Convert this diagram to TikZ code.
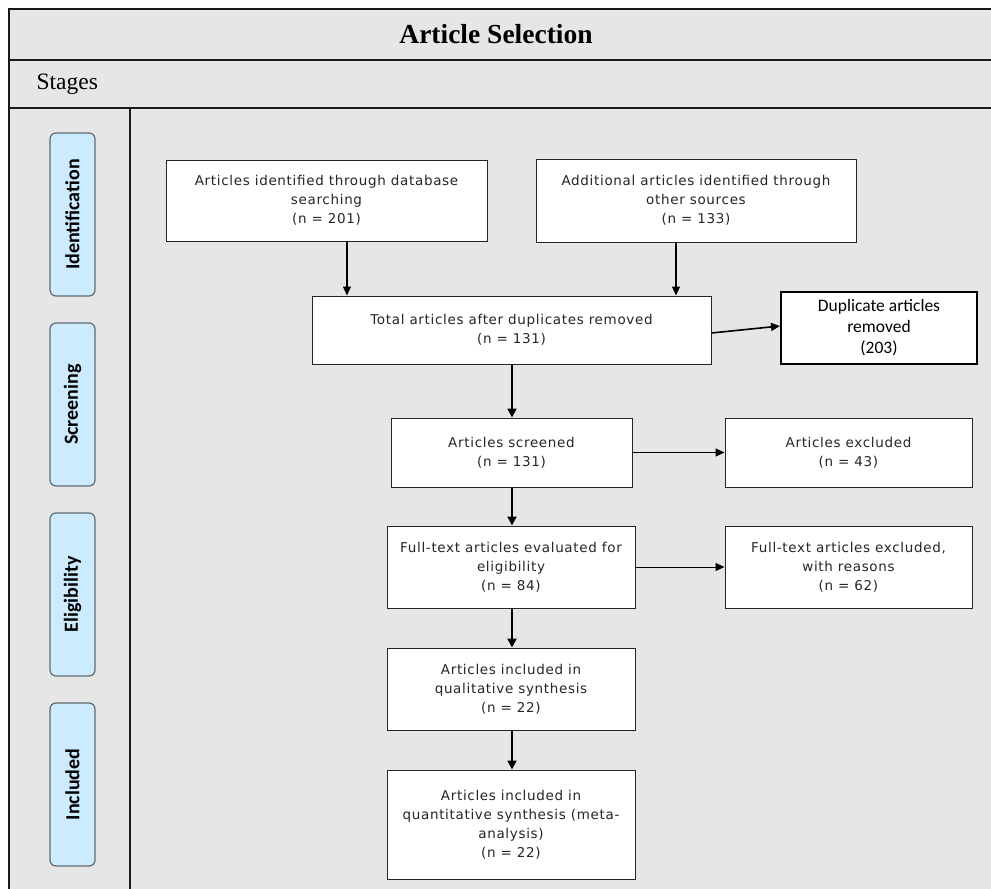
\documentclass[tikz,border=0pt]{standalone}
\usepackage{fontspec}
\setmainfont{Liberation Serif}
\newfontfamily\boxfont[LetterSpace=5]{DejaVu Sans}
\newfontfamily\calfont{Carlito}
\usetikzlibrary{arrows.meta}
\definecolor{bggray}{HTML}{E6E6E6}
\definecolor{pillblue}{HTML}{CCEBFF}
\definecolor{pillborder}{HTML}{5F6B70}
\tikzset{
  frameline/.style={line width=2pt, draw=black!90},
  fbox/.style={draw=black!85, fill=white, line width=1pt, align=center, inner sep=2pt,
    font=\boxfont\fontsize{13.5}{19}\selectfont, text=black!85},
  dupbox/.style={draw=black, fill=white, line width=2pt, align=center, inner sep=2pt,
    font=\calfont\fontsize{17.5}{21}\selectfont},
  pill/.style={draw=pillborder, fill=pillblue, line width=1.2pt, rounded corners=6pt,
    minimum width=45pt, minimum height=163pt},
  pilltext/.style={rotate=90, font=\calfont\bfseries\fontsize{20}{22}\selectfont},
  arr/.style={-{Triangle[length=9pt,width=8pt]}, line width=1pt},
  arrthick/.style={-{Triangle[length=9pt,width=9pt]}, line width=2pt},
}
\begin{document}
\begin{tikzpicture}[x=1pt,y=-1pt]
\useasboundingbox (0,0) rectangle (991,889);
% background frame
\fill[bggray] (9,9) rectangle (1000,900);
\draw[frameline] (1000,9) -- (9,9) -- (9,900);
\draw[frameline] (9,60) -- (1000,60);
\draw[frameline] (9,108) -- (1000,108);
\draw[frameline] (130,108) -- (130,900);
% title texts
\node[font=\bfseries\fontsize{27.5}{30}\selectfont] (title) at (496,34) {Article Selection};
\node[font=\fontsize{23.5}{26}\selectfont, anchor=west] (stages) at (33,84) {Stages};
% stage pills
\node[pill] (p1) at (72.5,214.5) {};
\node[pilltext] (t1) at (p1) {Identification};
\node[pill] (p2) at (72.5,404.5) {};
\node[pilltext] (t2) at (p2) {Screening};
\node[pill] (p3) at (72.5,594.5) {};
\node[pilltext] (t3) at (p3) {Eligibility};
\node[pill] (p4) at (72.5,784.5) {};
\node[pilltext] (t4) at (p4) {Included};
% boxes
\node[fbox, minimum width=321pt, minimum height=81pt] (b1) at (326.5,200.5)
  {Articles identified through database\\searching\\(n = 201)};
\node[fbox, minimum width=320pt, minimum height=83pt] (b2) at (696,200.5)
  {Additional articles identified through\\other sources\\(n = 133)};
\node[fbox, minimum width=399pt, minimum height=68pt] (b3) at (511.5,330)
  {Total articles after duplicates removed\\(n = 131)};
\node[dupbox, minimum width=196pt, minimum height=72pt] (dup) at (879,328)
  {Duplicate articles\\removed\\(203)};
\node[fbox, minimum width=241pt, minimum height=69pt] (b4) at (511.5,452.5)
  {Articles screened\\(n = 131)};
\node[fbox, minimum width=247pt, minimum height=69pt] (ex1) at (848.5,452.5)
  {Articles excluded\\(n = 43)};
\node[fbox, minimum width=248pt, minimum height=82pt] (b5) at (511,567)
  {Full-text articles evaluated for\\eligibility\\(n = 84)};
\node[fbox, minimum width=247pt, minimum height=82pt] (ex2) at (848.5,567)
  {Full-text articles excluded,\\with reasons\\(n = 62)};
\node[fbox, minimum width=248pt, minimum height=82pt] (b6) at (511,689)
  {Articles included in\\qualitative synthesis\\(n = 22)};
\node[fbox, minimum width=248pt, minimum height=109pt] (b7) at (511,824.5)
  {Articles included in\\quantitative synthesis (meta-\\analysis)\\(n = 22)};
% connectors
\coordinate (c1) at (347,0);
\coordinate (c2) at (676,0);
\coordinate (c3) at (512,0);
\draw[arr, line width=1.3pt] (b1.south -| c1) -- (b3.north -| c1);
\draw[arr, line width=1.3pt] (b2.south -| c2) -- (b3.north -| c2);
\draw[arr, line width=1.6pt] ([yshift=-3pt]b3.east) -- ([yshift=2pt]dup.west);
\draw[arrthick] (b3.south -| c3) -- (b4.north -| c3);
\draw[arrthick] (b4.south -| c3) -- (b5.north -| c3);
\draw[arrthick] (b5.south -| c3) -- (b6.north -| c3);
\draw[arrthick] (b6.south -| c3) -- (b7.north -| c3);
\draw[arr] (b4.east) -- (ex1.west);
\draw[arr] (b5.east) -- (ex2.west);
\end{tikzpicture}
\end{document}
